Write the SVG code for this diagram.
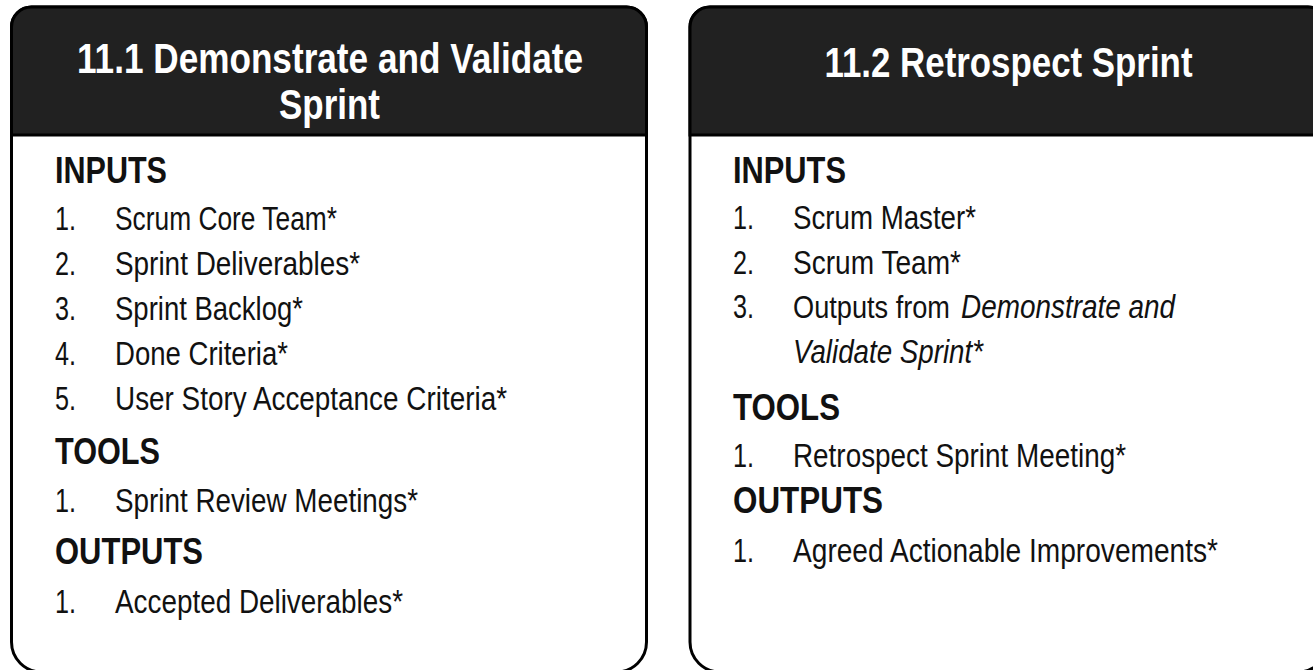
<svg xmlns="http://www.w3.org/2000/svg" width="1313" height="670" viewBox="0 0 1313 670">
<style>
.frame{fill:#fff;stroke:#000;stroke-width:3}
.head{fill:#212121;stroke:#000;stroke-width:3}
text{font-family:"Liberation Sans Narrow","Arial Narrow","Liberation Sans",Arial,sans-serif;fill:#111}
.title{font-size:42px;font-weight:bold;fill:#fff;text-anchor:middle}
.sec{font-size:37px;font-weight:bold}
.item{font-size:33px}
.it{font-style:italic}
</style>
<rect width="1313" height="670" fill="#fff"/>
<g id="process-11-1">
<path class="frame" d="M11.5,27 A20,20 0 0 1 31.5,7 H626.5 A20,20 0 0 1 646.5,27 V642 A30,30 0 0 1 616.5,672 H41.5 A30,30 0 0 1 11.5,642 Z"/>
<path class="head" d="M11.5,135 V27 A20,20 0 0 1 31.5,7 H626.5 A20,20 0 0 1 646.5,27 V135 Z"/>
<text class="title" x="330" y="73" textLength="506" lengthAdjust="spacingAndGlyphs">11.1 Demonstrate and Validate</text>
<text class="title" x="329.5" y="119" textLength="101" lengthAdjust="spacingAndGlyphs">Sprint</text>
<text class="sec" x="55" y="183" textLength="112" lengthAdjust="spacingAndGlyphs">INPUTS</text>
<text class="item" x="55" y="230" textLength="21" lengthAdjust="spacingAndGlyphs">1.</text>
<text class="item" x="115" y="230" textLength="222" lengthAdjust="spacingAndGlyphs">Scrum Core Team*</text>
<text class="item" x="55" y="275" textLength="21" lengthAdjust="spacingAndGlyphs">2.</text>
<text class="item" x="115" y="275" textLength="245" lengthAdjust="spacingAndGlyphs">Sprint Deliverables*</text>
<text class="item" x="55" y="320" textLength="21" lengthAdjust="spacingAndGlyphs">3.</text>
<text class="item" x="115" y="320" textLength="188" lengthAdjust="spacingAndGlyphs">Sprint Backlog*</text>
<text class="item" x="55" y="365" textLength="21" lengthAdjust="spacingAndGlyphs">4.</text>
<text class="item" x="115" y="365" textLength="173" lengthAdjust="spacingAndGlyphs">Done Criteria*</text>
<text class="item" x="55" y="410" textLength="21" lengthAdjust="spacingAndGlyphs">5.</text>
<text class="item" x="115" y="410" textLength="392" lengthAdjust="spacingAndGlyphs">User Story Acceptance Criteria*</text>
<text class="sec" x="55" y="464" textLength="105" lengthAdjust="spacingAndGlyphs">TOOLS</text>
<text class="item" x="55" y="512" textLength="21" lengthAdjust="spacingAndGlyphs">1.</text>
<text class="item" x="115" y="512" textLength="303" lengthAdjust="spacingAndGlyphs">Sprint Review Meetings*</text>
<text class="sec" x="55" y="564" textLength="148" lengthAdjust="spacingAndGlyphs">OUTPUTS</text>
<text class="item" x="55" y="613" textLength="21" lengthAdjust="spacingAndGlyphs">1.</text>
<text class="item" x="115" y="613" textLength="288" lengthAdjust="spacingAndGlyphs">Accepted Deliverables*</text>
</g>
<g id="process-11-2">
<path class="frame" d="M690,27 A20,20 0 0 1 710,7 H1308 A20,20 0 0 1 1328,27 V642 A30,30 0 0 1 1298,672 H720 A30,30 0 0 1 690,642 Z"/>
<path class="head" d="M690,135 V27 A20,20 0 0 1 710,7 H1308 A20,20 0 0 1 1328,27 V135 Z"/>
<text class="title" x="1008.5" y="77" textLength="368" lengthAdjust="spacingAndGlyphs">11.2 Retrospect Sprint</text>
<text class="sec" x="733" y="183" textLength="113" lengthAdjust="spacingAndGlyphs">INPUTS</text>
<text class="item" x="733" y="229" textLength="21" lengthAdjust="spacingAndGlyphs">1.</text>
<text class="item" x="793" y="229" textLength="183" lengthAdjust="spacingAndGlyphs">Scrum Master*</text>
<text class="item" x="733" y="274" textLength="21" lengthAdjust="spacingAndGlyphs">2.</text>
<text class="item" x="793" y="274" textLength="168" lengthAdjust="spacingAndGlyphs">Scrum Team*</text>
<text class="item" x="733" y="318" textLength="21" lengthAdjust="spacingAndGlyphs">3.</text>
<text class="item" x="793" y="318" textLength="157" lengthAdjust="spacingAndGlyphs" style="font-size:31px">Outputs from</text>
<text class="item it" x="961" y="318" textLength="214" lengthAdjust="spacingAndGlyphs">Demonstrate and</text>
<text class="item it" x="793" y="363" textLength="190" lengthAdjust="spacingAndGlyphs">Validate Sprint*</text>
<text class="sec" x="733" y="420" textLength="107" lengthAdjust="spacingAndGlyphs">TOOLS</text>
<text class="item" x="733" y="467" textLength="21" lengthAdjust="spacingAndGlyphs">1.</text>
<text class="item" x="793" y="467" textLength="333" lengthAdjust="spacingAndGlyphs">Retrospect Sprint Meeting*</text>
<text class="sec" x="733" y="513" textLength="150" lengthAdjust="spacingAndGlyphs">OUTPUTS</text>
<text class="item" x="733" y="562" textLength="21" lengthAdjust="spacingAndGlyphs">1.</text>
<text class="item" x="793" y="562" textLength="425" lengthAdjust="spacingAndGlyphs">Agreed Actionable Improvements*</text>
</g>
<g id="connectors"/>
</svg>
